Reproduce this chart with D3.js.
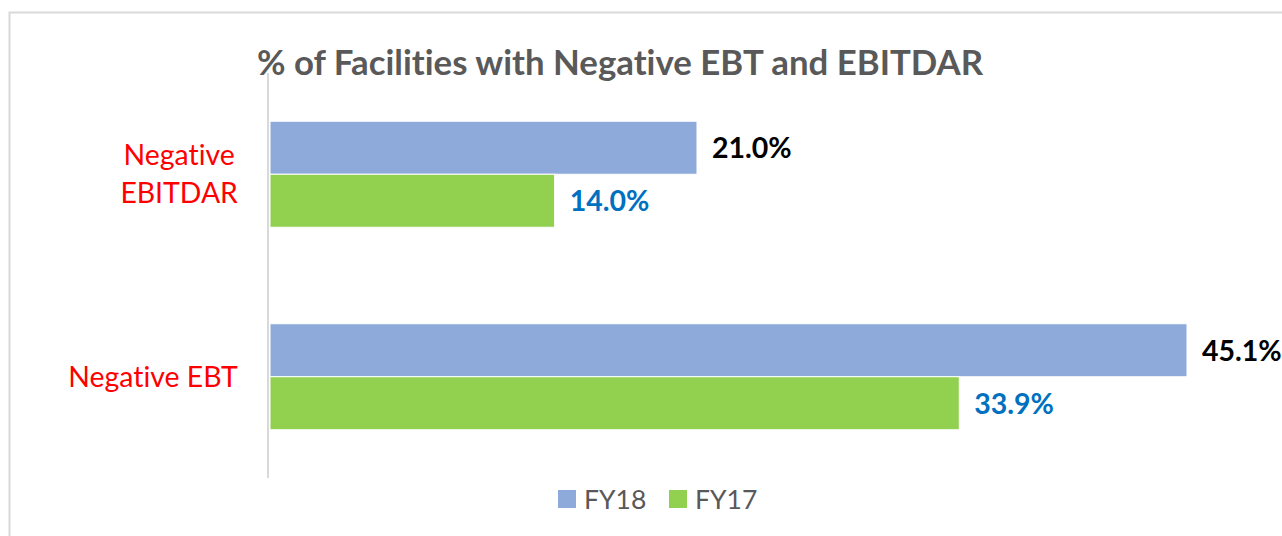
<!DOCTYPE html>
<html>
<head>
<meta charset="utf-8">
<title>% of Facilities with Negative EBT and EBITDAR</title>
<script src="https://d3js.org/d3.v7.min.js"></script>
<style>
  body { margin: 0; background: #fff; }
  svg text { font-family: Lato, 'Open Sans', sans-serif; font-variant-ligatures: none; }
  .title { font-size: 34.8px; font-weight: bold; fill: #595959; }
  .cat { font-size: 28.4px; fill: #ff0000; }
  .lbl { font-size: 28.5px; font-weight: bold; }
  .leg { font-size: 26.5px; fill: #595959; }
</style>
</head>
<body>
<div id="chart"></div>
<script>
var categories = ["Negative EBITDAR", "Negative EBT"];
var catLines = [["Negative", "EBITDAR"], ["Negative EBT"]];
var seriesNames = ["FY18", "FY17"];
var fy18 = [21.0, 45.1];
var fy17 = [14.0, 33.9];

var colors = { FY18: "#8eaadb", FY17: "#92d050" };
var labelColors = { FY18: "#000000", FY17: "#0070c0" };

var W = 1282, H = 536;
var svg = d3.select("#chart").append("svg")
  .attr("width", W).attr("height", H);

// chart border
svg.append("rect")
  .attr("x", 9.5).attr("y", 12.5)
  .attr("width", W + 10).attr("height", H + 10)
  .attr("fill", "none").attr("stroke", "#d9d9d9").attr("stroke-width", 2);

svg.append("text").attr("class", "title")
  .attr("x", 620).attr("y", 75)
  .attr("text-anchor", "middle")
  .text("% of Facilities with Negative EBT and EBITDAR");

var x = d3.scaleLinear().domain([0, 45.1]).range([270, 1187]);
var y = d3.scaleBand().domain(categories).range([73, 478])
  .paddingInner(0.4765).paddingOuter(0.4765 / 2);
var ySub = d3.scaleBand().domain(seriesNames).range([0, y.bandwidth()]);

var data = [];
categories.forEach(function (c, i) {
  data.push({ cat: c, s: "FY18", v: fy18[i] });
  data.push({ cat: c, s: "FY17", v: fy17[i] });
});

svg.selectAll("rect.bar").data(data).enter().append("rect")
  .attr("class", "bar")
  .attr("x", x(0))
  .attr("y", function (d) { return y(d.cat) + ySub(d.s); })
  .attr("width", function (d) { return x(d.v) - x(0); })
  .attr("height", ySub.bandwidth())
  .attr("fill", function (d) { return colors[d.s]; })
  .attr("stroke", "#ffffff").attr("stroke-width", 1);

svg.selectAll("text.lbl").data(data).enter().append("text")
  .attr("class", "lbl")
  .attr("x", function (d) { return x(d.v) + 15; })
  .attr("y", function (d) { return y(d.cat) + ySub(d.s) + ySub.bandwidth() / 2; })
  .attr("dy", "0.36em")
  .attr("fill", function (d) { return labelColors[d.s]; })
  .text(function (d) { return d.v.toFixed(1) + "%"; });

// category axis line
svg.append("line")
  .attr("x1", 268).attr("x2", 268)
  .attr("y1", y.range()[0]).attr("y2", y.range()[1])
  .attr("stroke", "#d9d9d9").attr("stroke-width", 2);

// category labels (wrapped lines centred, block right-aligned to axis)
categories.forEach(function (c, i) {
  var lines = catLines[i];
  var cy = y(c) + y.bandwidth() / 2;
  var lh = 38;
  var t = svg.append("text").attr("class", "cat")
    .attr("text-anchor", "middle");
  lines.forEach(function (l, j) {
    t.append("tspan")
      .attr("x", 0)
      .attr("y", cy + (j - (lines.length - 1) / 2) * lh)
      .attr("dy", "0.36em")
      .text(l);
  });
  var bw = t.node().getBBox().width;
  t.selectAll("tspan").attr("x", 238 - bw / 2);
});

// legend
var leg = svg.append("g");
var lx = [558, 669];
seriesNames.forEach(function (s, i) {
  leg.append("rect")
    .attr("x", lx[i]).attr("y", 490).attr("width", 18).attr("height", 18)
    .attr("fill", colors[s]);
  leg.append("text").attr("class", "leg")
    .attr("x", lx[i] + 26).attr("y", 499).attr("dy", "0.36em")
    .text(s);
});
</script>
</body>
</html>
